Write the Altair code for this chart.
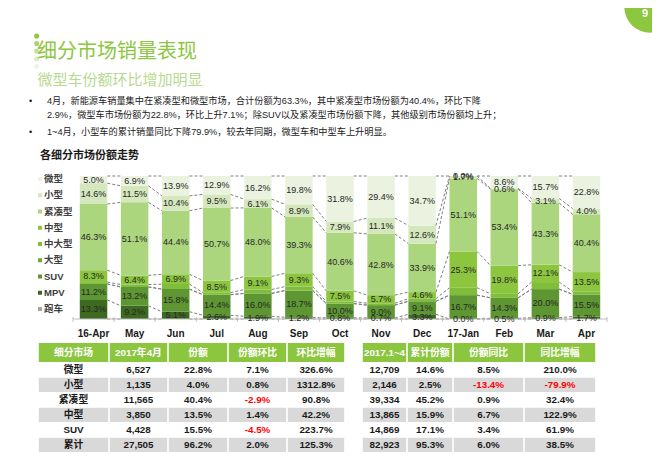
import altair as alt
import pandas as pd

# ---------------- data ----------------
months = ["16-Apr", "May", "Jun", "Jul", "Aug", "Sep", "Oct", "Nov", "Dec",
          "17-Jan", "Feb", "Mar", "Apr"]
categories = ["微型", "小型", "紧凑型", "中型", "中大型", "大型", "SUV", "MPV", "跑车"]

weixing = [5.0, 6.9, 13.9, 12.9, 16.2, 19.8, 31.8, 29.4, 34.7, 0.0, 8.6, 15.7, 22.8]
xiaoxing = [14.6, 11.5, 10.4, 9.5, 6.1, 8.9, 7.9, 11.1, 12.6, 1.7, 0.6, 3.1, 4.0]
jincou = [46.3, 51.1, 44.4, 50.7, 48.0, 39.3, 40.6, 42.8, 33.9, 51.1, 53.4, 43.3, 40.4]
zhongxing = [8.3, 6.4, 6.9, 8.5, 9.1, 9.3, 7.5, 5.7, 4.6, 25.3, 19.8, 12.1, 13.5]
zhongdaxing = [1.3, 1.7, 3.5, 1.4, 2.7, 2.8, 1.4, 1.3, 1.8, 5.2, 2.8, 4.9, 2.1]  # unlabeled slivers
daxing = [0.0, 0.0, 0.0, 0.0, 0.0, 0.0, 0.0, 0.0, 0.0, 0.0, 0.0, 0.0, 0.0]
suv = [11.2, 13.2, 15.8, 14.4, 16.0, 18.7, 10.0, 9.0, 9.1, 16.7, 14.3, 20.0, 15.5]
mpv = [13.3, 9.2, 5.1, 2.6, 1.9, 1.2, 0.8, 0.7, 3.3, 0.0, 0.5, 0.9, 1.7]
paoche = [0.0, 0.0, 0.0, 0.0, 0.0, 0.0, 0.0, 0.0, 0.0, 0.0, 0.0, 0.0, 0.0]
labeled = ["微型", "小型", "紧凑型", "中型", "SUV", "MPV"]

series = {"微型": weixing, "小型": xiaoxing, "紧凑型": jincou, "中型": zhongxing,
          "中大型": zhongdaxing, "大型": daxing, "SUV": suv, "MPV": mpv, "跑车": paoche}

colors = ["#ebf3e0", "#d4e7bd", "#acd67e", "#8cc63f", "#80bd3a", "#70a838",
          "#5d9632", "#3d6a20", "#a6a6a6"]

table_left_header = ["细分市场", "2017年4月", "份额", "份额环比", "环比增幅"]
table_right_header = ["2017.1~4", "累计份额", "份额同比", "同比增幅"]
table_rows = ["微型", "小型", "紧凑型", "中型", "SUV", "累计"]
t_apr_sales = ["6,527", "1,135", "11,565", "3,850", "4,428", "27,505"]
t_apr_share = ["22.8%", "4.0%", "40.4%", "13.5%", "15.5%", "96.2%"]
t_apr_mom = ["7.1%", "0.8%", "-2.9%", "1.4%", "-4.5%", "2.0%"]
t_apr_growth = ["326.6%", "1312.8%", "90.8%", "42.2%", "223.7%", "125.3%"]
t_ytd_sales = ["12,709", "2,146", "39,334", "13,865", "14,869", "82,923"]
t_ytd_share = ["14.6%", "2.5%", "45.2%", "15.9%", "17.1%", "95.3%"]
t_ytd_yoy = ["8.5%", "-13.4%", "0.9%", "6.7%", "3.4%", "6.0%"]
t_ytd_growth = ["210.0%", "-79.9%", "32.4%", "122.9%", "61.9%", "38.5%"]

title = "细分市场销量表现"
subtitle = "微型车份额环比增加明显"
bullet_lines = [
    "4月，新能源车销量集中在紧凑型和微型市场，合计份额为63.3%，其中紧凑型市场份额为40.4%，环比下降",
    "2.9%，微型车市场份额为22.8%，环比上升7.1%；除SUV以及紧凑型市场份额下降，其他级别市场份额均上升；",
    "1~4月，小型车的累计销量同比下降79.9%，较去年同期，微型车和中型车上升明显。",
]
chart_title = "各细分市场份额走势"
page_no = "9"

# ---------------- derived tables ----------------
stack_order = ["跑车", "MPV", "SUV", "大型", "中大型", "中型", "紧凑型", "小型", "微型"]
seg_rows = []
tops = {}
for i, m in enumerate(months):
    base = 0.0
    for c in stack_order:
        v = series[c][i]
        seg_rows.append({"idx": i, "month": m, "cat": c, "val": v,
                         "y0": base, "y1": base + v, "lab": c in labeled})
        base += v
        tops[(c, i)] = base
seg = pd.DataFrame(seg_rows)

line_rows = []
for c in stack_order:
    for i in range(len(months) - 1):
        line_rows.append({"idx": i, "cat": c, "ya": tops[(c, i)], "yb": tops[(c, i + 1)]})
lines_df = pd.DataFrame(line_rows)

mon_df = pd.DataFrame({"idx": list(range(len(months))), "month": months})
legend_df = pd.DataFrame({"cat": categories})

FONT = "Liberation Sans, Noto Sans CJK SC"
CJK = "Noto Sans CJK SC"

XS = alt.Scale(domain=[-0.5, 12.5], range=[65, 599], nice=False, zero=False)
YS = alt.Scale(domain=[0, 100], range=[311, 168], nice=False, zero=False)
CS = alt.Scale(domain=categories, range=colors)
HALF = 0.335

one = pd.DataFrame({"a": [0]})


def txt(s, x, y, size, color, weight="normal", font=FONT, align="left"):
    return alt.Chart(one).mark_text(
        text=s, fontSize=size, color=color, fontWeight=weight, font=font,
        align=align, baseline="middle"
    ).encode(x=alt.value(x), y=alt.value(y))


layers = []

# page number badge
layers.append(alt.Chart(one).mark_circle(size=2640, color="#8dc63f", opacity=1).encode(
    x=alt.value(642), y=alt.value(-1)))
layers.append(txt(page_no, 637, 6, 11, "white", "bold", FONT, "center"))

# title dots
dot_cols = ["#8dc63f", "#a8d370", "#c3e09c", "#dcecc8", "#eef5e6"]
dot_ys = [28, 35.5, 43, 51, 58.5]
for cc, yy in zip(dot_cols, dot_ys):
    layers.append(alt.Chart(one).mark_circle(size=26, color=cc, opacity=1).encode(
        x=alt.value(28.7), y=alt.value(yy)))

layers.append(txt(title, 29, 43.5, 20, "#8dc63f", "normal", CJK))
layers.append(txt(subtitle, 29.5, 72, 15, "#b7da8f", "normal", CJK))

for k, (ln, yy) in enumerate(zip(bullet_lines, [92.5, 107, 123.7])):
    layers.append(txt(ln, 39, yy, 9.2, "#1a1a1a", "normal", FONT))
layers.append(txt("•", 21, 92.5, 9, "#1a1a1a"))
layers.append(txt("•", 21, 123.7, 9, "#1a1a1a"))

layers.append(txt(chart_title, 32, 148, 11, "#1a1a1a", "bold", FONT))

# bars
bars = alt.Chart(seg).transform_calculate(
    xl=f"datum.idx - {HALF}", xr=f"datum.idx + {HALF}"
).mark_rect().encode(
    x=alt.X("xl:Q", scale=XS, axis=None),
    x2="xr:Q",
    y=alt.Y("y0:Q", scale=YS, axis=None),
    y2="y1:Q",
    color=alt.Color("cat:N", scale=CS, legend=None),
)
layers.append(bars)

# series lines
slines = alt.Chart(lines_df).transform_calculate(
    xa=f"datum.idx + {HALF}", xb=f"datum.idx + 1 - {HALF}"
).mark_rule(color="#7f7f7f", strokeDash=[3, 2], strokeWidth=1).encode(
    x=alt.X("xa:Q", scale=XS, axis=None),
    x2="xb:Q",
    y=alt.Y("ya:Q", scale=YS, axis=None),
    y2="yb:Q",
)
layers.append(slines)

# axis line and ticks
axis_line = alt.Chart(one).transform_calculate(
    xa="-0.5", xb="12.5", y0="0"
).mark_rule(color="#bfbfbf", strokeWidth=1).encode(
    x=alt.X("xa:Q", scale=XS, axis=None), x2="xb:Q",
    y=alt.Y("y0:Q", scale=YS, axis=None))
layers.append(axis_line)

ticks = alt.Chart(mon_df).transform_calculate(
    xt="datum.idx - 0.5"
).mark_rule(color="#bfbfbf").encode(
    x=alt.X("xt:Q", scale=XS, axis=None),
    y=alt.value(309), y2=alt.value(314))
layers.append(ticks)
layers.append(alt.Chart(one).transform_calculate(xt="12.5").mark_rule(color="#bfbfbf").encode(
    x=alt.X("xt:Q", scale=XS, axis=None), y=alt.value(309), y2=alt.value(314)))

# value labels
labels = alt.Chart(seg).transform_filter("datum.lab").transform_calculate(
    ym="(datum.y0 + datum.y1) / 2",
    t="format(datum.val, '.1f') + '%'"
).mark_text(fontSize=9, color="#262626", font=FONT, baseline="middle").encode(
    x=alt.X("idx:Q", scale=XS, axis=None),
    y=alt.Y("ym:Q", scale=YS, axis=None),
    text="t:N",
)
layers.append(labels)

# month labels
mlabels = alt.Chart(mon_df).mark_text(
    fontSize=10, fontWeight="bold", color="#1a1a1a", font=FONT, baseline="middle"
).encode(x=alt.X("idx:Q", scale=XS, axis=None), y=alt.value(326), text="month:N")
layers.append(mlabels)

# legend
LY = alt.Scale(type="point", domain=categories, range=[171, 301], padding=0)
leg_sq = alt.Chart(legend_df).mark_square(size=16, opacity=1).encode(
    x=alt.value(32), y=alt.Y("cat:N", scale=LY, axis=None),
    color=alt.Color("cat:N", scale=CS, legend=None))
leg_tx = alt.Chart(legend_df).mark_text(
    align="left", baseline="middle", fontSize=9.5, fontWeight="bold", color="#404040", font=FONT
).encode(x=alt.value(36), y=alt.Y("cat:N", scale=LY, axis=None), text="cat:N")
layers += [leg_sq, leg_tx]

# ---------------- table ----------------
left_b = [30, 101, 160, 220, 279, 337]
right_b = [354, 399, 445, 516, 588]
head_top, head_bot = 335, 354
row_h = 15

rect_rows = []
text_rows = []
for bnds, heads in [(left_b, table_left_header), (right_b, table_right_header)]:
    for j in range(len(bnds) - 1):
        rect_rows.append({"x": bnds[j] + 0.8, "x2": bnds[j + 1] - 0.8,
                          "y": head_top, "y2": head_bot, "fill": "#8cc63f"})
        text_rows.append({"x": (bnds[j] + bnds[j + 1]) / 2, "y": (head_top + head_bot) / 2 + 0.5,
                          "t": heads[j], "c": "#ffffff"})
    for r in range(len(table_rows)):
        if r % 2 == 1:
            for j in range(len(bnds) - 1):
                rect_rows.append({"x": bnds[j] + 0.8, "x2": bnds[j + 1] - 0.8,
                                  "y": head_bot + r * row_h + 0.8, "y2": head_bot + (r + 1) * row_h,
                                  "fill": "#d9d9d9"})

left_cols = [table_rows, t_apr_sales, t_apr_share, t_apr_mom, t_apr_growth]
right_cols = [t_ytd_sales, t_ytd_share, t_ytd_yoy, t_ytd_growth]
for bnds, cols in [(left_b, left_cols), (right_b, right_cols)]:
    for j, col in enumerate(cols):
        for r, v in enumerate(col):
            text_rows.append({"x": (bnds[j] + bnds[j + 1]) / 2,
                              "y": head_bot + r * row_h + row_h / 2 + 0.5,
                              "t": v, "c": "#ff0000" if v.startswith("-") else "#1a1a1a"})

rect_df = pd.DataFrame(rect_rows)
ttext_df = pd.DataFrame(text_rows)

trects = alt.Chart(rect_df).mark_rect().encode(
    x=alt.X("x:Q", scale=None, axis=None), x2="x2:Q",
    y=alt.Y("y:Q", scale=None, axis=None), y2="y2:Q",
    fill=alt.Fill("fill:N", scale=None, legend=None))
ttexts = alt.Chart(ttext_df).mark_text(
    fontSize=9.8, fontWeight="bold", font=FONT, baseline="middle", align="center"
).encode(
    x=alt.X("x:Q", scale=None, axis=None),
    y=alt.Y("y:Q", scale=None, axis=None),
    text="t:N",
    color=alt.Color("c:N", scale=None, legend=None))
layers += [trects, ttexts]

chart = alt.layer(*layers).resolve_scale(
    x="independent", y="independent", color="independent"
).properties(
    width=644, height=452, autosize="none", padding=0, background="white"
).configure_view(stroke=None)

chart.save("out.html", embed_options={"renderer": "svg", "actions": False})
